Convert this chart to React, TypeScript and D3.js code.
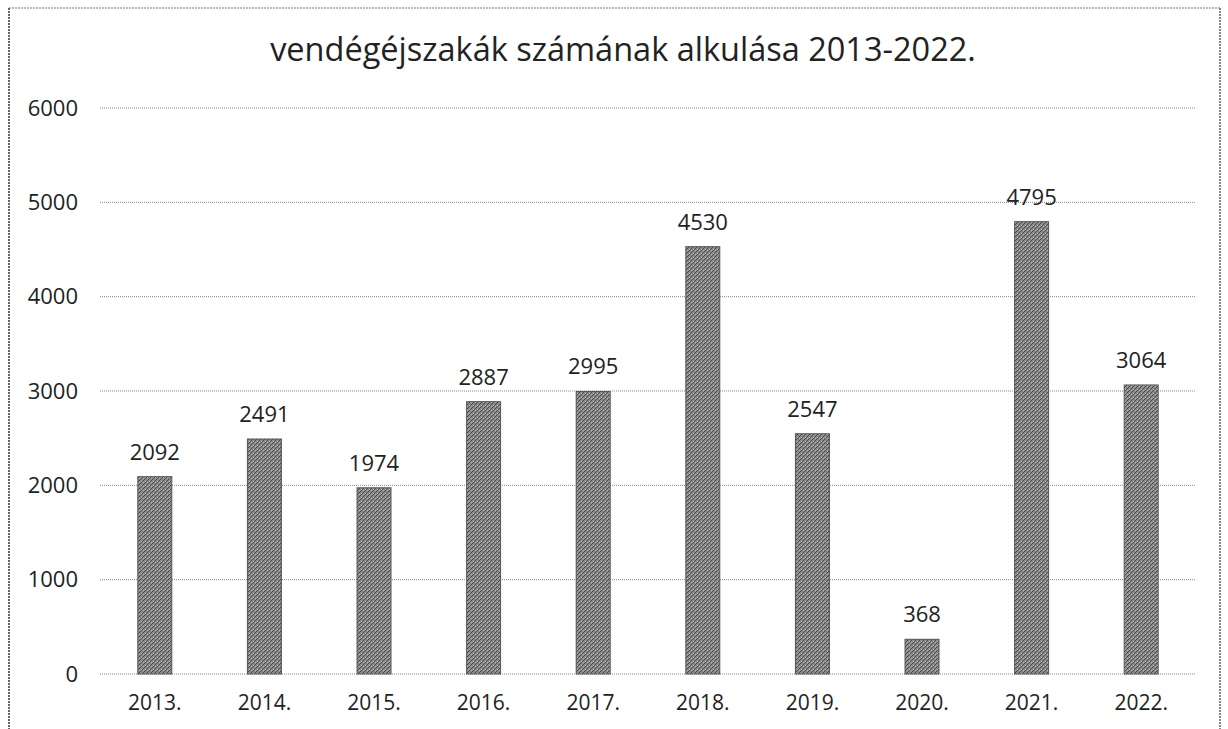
import React from "react";
import * as d3 from "d3";

const categories = ["2013.", "2014.", "2015.", "2016.", "2017.", "2018.", "2019.", "2020.", "2021.", "2022."];
const values = [2092, 2491, 1974, 2887, 2995, 4530, 2547, 368, 4795, 3064];
const yTicks = [0, 1000, 2000, 3000, 4000, 5000, 6000];
const title = "vendégéjszakák számának alkulása 2013-2022.";

export default function App() {
  const W = 1228, H = 729;
  const left = 100, right = 1196, top = 108, bottom = 674;
  const x = d3.scaleBand<string>().domain(categories).range([left, right]).paddingInner(0.69).paddingOuter(0.345);
  const y = d3.scaleLinear().domain([0, 6000]).range([bottom, top]);
  const font = "'Open Sans', sans-serif";
  return (
    <svg width={W} height={H} style={{ position: "absolute", left: 0, top: 0, background: "#fff" }}>
      <defs>
        <pattern id="tex" width="4" height="4" patternUnits="userSpaceOnUse">
          <rect width="4" height="4" fill="#8a8a8a" />
          <path d="M0,4 L4,0" stroke="#4a4a4a" strokeWidth="1" />
          <rect x="1" y="1" width="1" height="1" fill="#c4c4c4" />
          <rect x="3" y="2" width="1" height="1" fill="#b0b0b0" />
        </pattern>
      </defs>
      <rect width={W} height={H} fill="#fff" />
      <line x1={9} y1={8} x2={1220} y2={8} stroke="#777" strokeWidth={1} strokeDasharray="2,1" />
      <line x1={9} y1={8} x2={9} y2={H} stroke="#666" strokeWidth={2} strokeDasharray="2,1" />
      <line x1={1220} y1={8} x2={1220} y2={H} stroke="#888" strokeWidth={2} strokeDasharray="2,1" />
      <text x={623} y={61} textAnchor="middle" fontFamily={font} fontSize={32.5} fill="#222">{title}</text>
      {yTicks.map((t) => (
        <g key={t}>
          <line x1={left} x2={right} y1={y(t)} y2={y(t)} stroke="#888" strokeWidth={1} strokeDasharray="1,1" />
          <text x={78} y={y(t)} dy="0.35em" textAnchor="end" fontFamily={font} fontSize={22} fill="#222">{t}</text>
        </g>
      ))}
      {categories.map((c, i) => (
        <g key={c}>
          <rect x={x(c)} y={y(values[i])} width={x.bandwidth()} height={bottom - y(values[i])} fill="url(#tex)" stroke="#555" strokeWidth={1} />
          <text x={(x(c) as number) + x.bandwidth() / 2} y={y(values[i]) - 17} textAnchor="middle" fontFamily={font} fontSize={22} fill="#222">{values[i]}</text>
          <text x={(x(c) as number) + x.bandwidth() / 2} y={bottom + 36} textAnchor="middle" fontFamily={font} fontSize={21} fill="#222">{c}</text>
        </g>
      ))}
    </svg>
  );
}
